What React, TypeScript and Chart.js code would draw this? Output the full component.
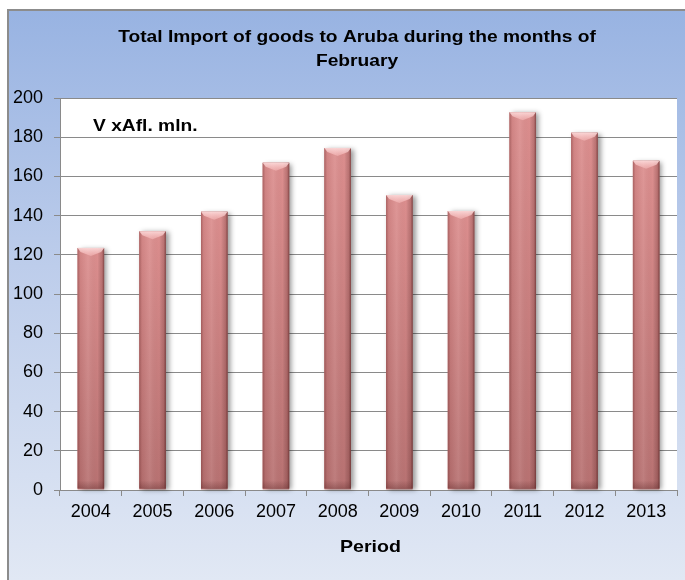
import React, { useEffect, useRef } from "react";
import { Chart, registerables } from "chart.js";

Chart.register(...registerables);

const categories = ["2004", "2005", "2006", "2007", "2008", "2009", "2010", "2011", "2012", "2013"];
const importValues = [123.5, 132, 142, 167, 174.5, 150.5, 142.3, 192.7, 182.3, 168];
const titleLines = ["Total Import of goods to Aruba during the months of", "February"];
const unitLabel = "V xAfl. mln.";
const xAxisTitle = "Period";

const FONT = "'Liberation Sans', Arial, sans-serif";

function drawStretched(ctx: CanvasRenderingContext2D, text: string, cx: number, cy: number, size: number, sx: number, align: CanvasTextAlign = "center") {
  ctx.save();
  ctx.translate(cx, cy);
  ctx.scale(sx, 1);
  ctx.font = `bold ${size}px ${FONT}`;
  ctx.fillStyle = "#000";
  ctx.textAlign = align;
  ctx.textBaseline = "middle";
  ctx.fillText(text, 0, 0);
  ctx.restore();
}

const backgroundPlugin = {
  id: "bgFrame",
  beforeDraw(chart: any) {
    const { ctx, chartArea } = chart;
    ctx.save();
    ctx.fillStyle = "#ffffff";
    ctx.fillRect(0, 0, chart.width, chart.height);
    const g = ctx.createLinearGradient(0, 10, 0, 580);
    g.addColorStop(0, "#98b3e2");
    g.addColorStop(0.45, "#bdcdeb");
    g.addColorStop(1, "#e1e8f4");
    ctx.fillStyle = g;
    ctx.fillRect(7, 10, chart.width, chart.height);
    ctx.strokeStyle = "#8c8c8c";
    ctx.lineWidth = 2;
    ctx.beginPath();
    ctx.moveTo(8, chart.height + 5);
    ctx.lineTo(8, 10);
    ctx.lineTo(chart.width + 5, 10);
    ctx.stroke();
    ctx.fillStyle = "#ffffff";
    ctx.fillRect(chartArea.left, chartArea.top, chartArea.right - chartArea.left, chartArea.bottom - chartArea.top);
    ctx.restore();
  },
};

const barStylePlugin = {
  id: "barStyle",
  afterDatasetsDraw(chart: any) {
    const ctx = chart.ctx;
    const meta = chart.getDatasetMeta(0);
    meta.data.forEach((bar: any) => {
      const { x, y, base, width } = bar.getProps(["x", "y", "base", "width"], true);
      const l = x - width / 2;
      const r = x + width / 2;
      const t = y;
      const b = base - 1;
      const w = r - l;
      ctx.save();
      ctx.shadowColor = "rgba(0,0,0,0.4)";
      ctx.shadowBlur = 5;
      ctx.shadowOffsetX = 3;
      ctx.shadowOffsetY = 1;
      const vg = ctx.createLinearGradient(0, t, 0, b);
      vg.addColorStop(0, "#dc8e8e");
      vg.addColorStop(1, "#b87272");
      ctx.fillStyle = vg;
      ctx.fillRect(l, t, w, b - t);
      ctx.restore();
      ctx.save();
      const hg = ctx.createLinearGradient(l, 0, r, 0);
      hg.addColorStop(0, "rgba(80,20,20,0.35)");
      hg.addColorStop(0.1, "rgba(80,20,20,0.08)");
      hg.addColorStop(0.4, "rgba(255,255,255,0.08)");
      hg.addColorStop(0.75, "rgba(0,0,0,0.0)");
      hg.addColorStop(0.92, "rgba(60,10,10,0.2)");
      hg.addColorStop(1, "rgba(40,0,0,0.5)");
      ctx.fillStyle = hg;
      ctx.fillRect(l, t, w, b - t);
      // top bevel
      const bev = 8;
      ctx.beginPath();
      ctx.moveTo(l, t);
      ctx.lineTo(r, t);
      ctx.lineTo(r - 3, t + bev * 0.5);
      ctx.lineTo(x, t + bev);
      ctx.lineTo(l + 3, t + bev * 0.5);
      ctx.closePath();
      const tg = ctx.createLinearGradient(0, t, 0, t + bev);
      tg.addColorStop(0, "rgba(255,225,225,0.85)");
      tg.addColorStop(1, "rgba(250,190,190,0.5)");
      ctx.fillStyle = tg;
      ctx.fill();
      // bottom darkening
      const bg = ctx.createLinearGradient(0, b - 8, 0, b);
      bg.addColorStop(0, "rgba(90,40,40,0)");
      bg.addColorStop(1, "rgba(90,40,40,0.35)");
      ctx.fillStyle = bg;
      ctx.fillRect(l, b - 8, w, 8);
      ctx.restore();
    });
  },
};

const textPlugin = {
  id: "texts",
  afterDraw(chart: any) {
    const ctx = chart.ctx;
    const ca = chart.chartArea;
    drawStretched(ctx, titleLines[0], 357, 37, 17, 1.13);
    drawStretched(ctx, titleLines[1], 357, 61, 17, 1.13);
    drawStretched(ctx, unitLabel, 93, 126, 17, 1.13, "left");
    drawStretched(ctx, xAxisTitle, (ca.left + ca.right) / 2 + 2, 547, 17, 1.15);
  },
};

export default function App() {
  const ref = useRef<HTMLCanvasElement | null>(null);
  useEffect(() => {
    if (!ref.current) return;
    const chart = new Chart(ref.current, {
      type: "bar",
      data: {
        labels: categories,
        datasets: [
          {
            data: importValues,
            backgroundColor: "#cf8282",
            borderWidth: 0,
            categoryPercentage: 1,
            barPercentage: 0.43,
          },
        ],
      },
      options: {
        animation: false,
        responsive: false,
        devicePixelRatio: 1,
        layout: { padding: { top: 98, left: 0, right: 8, bottom: 0 } },
        plugins: { legend: { display: false }, title: { display: false }, tooltip: { enabled: false } },
        scales: {
          x: {
            afterFit: (s: any) => { s.height = 90; },
            grid: { display: true, drawOnChartArea: false, drawTicks: true, tickLength: 6, color: "#8a8a8a", offset: true },
            border: { display: true, color: "#8a8a8a", width: 1 },
            ticks: { color: "#000", font: { family: FONT, size: 18 }, padding: 5, maxRotation: 0 },
          },
          y: {
            min: 0,
            max: 200,
            afterFit: (s: any) => { s.width = 60; },
            grid: { color: "#8a8a8a", tickLength: 6, drawTicks: true },
            border: { display: true, color: "#8a8a8a", width: 1 },
            ticks: { stepSize: 20, color: "#000", font: { family: FONT, size: 18 }, padding: 11 },
          },
        },
      },
      plugins: [backgroundPlugin, barStylePlugin, textPlugin],
    });
    return () => chart.destroy();
  }, []);
  return (
    <div style={{ position: "fixed", left: 0, top: 0, width: 685, height: 580 }}>
      <canvas ref={ref} width={685} height={580} style={{ display: "block" }} />
    </div>
  );
}
